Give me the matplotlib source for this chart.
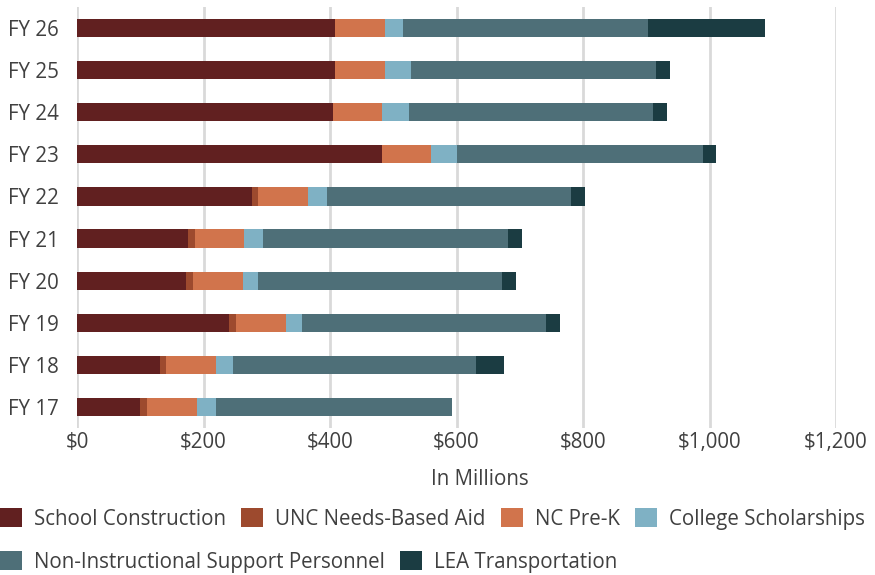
import numpy as np
import matplotlib
matplotlib.use("Agg")
import matplotlib.pyplot as plt
from matplotlib.patches import Patch
from matplotlib.ticker import FuncFormatter

plt.rcParams['font.family'] = ['Open Sans', 'DejaVu Sans']

# fiscal years, bottom to top
years = ['FY 17', 'FY 18', 'FY 19', 'FY 20', 'FY 21',
         'FY 22', 'FY 23', 'FY 24', 'FY 25', 'FY 26']

# spending by program, in millions
school_construction = [99, 131, 240, 173, 175, 276, 482, 404, 408, 408]
unc_needs_aid = [11, 9, 11, 10, 11, 10, 0, 0, 0, 0]
nc_pre_k = [79, 79, 79, 79, 78, 79, 78, 78, 79, 79]
college_scholarships = [31, 27, 25, 24, 30, 30, 41, 43, 41, 28]
support_personnel = [373, 385, 386, 386, 388, 386, 388, 386, 388, 388]
lea_transportation = [0, 44, 22, 22, 22, 22, 22, 22, 22, 184]

series = [
    ('School Construction', school_construction, '#612020'),
    ('UNC Needs-Based Aid', unc_needs_aid, '#9d4a2e'),
    ('NC Pre-K', nc_pre_k, '#d1744c'),
    ('College Scholarships', college_scholarships, '#7fb1c4'),
    ('Non-Instructional Support Personnel', support_personnel, '#4e6f78'),
    ('LEA Transportation', lea_transportation, '#1b3c42'),
]

text_color = '#404040'
fs = 14.8
fig = plt.figure(figsize=(8.75, 5.75), dpi=100)
ax = fig.add_axes([77 / 875, 1 - 428 / 575, (836 - 77) / 875, 421 / 575])

y = np.arange(len(years))
left = np.zeros(len(years))
for name, vals, color in series:
    vals = np.array(vals, dtype=float)
    ax.barh(y, vals, left=left, height=0.43, color=color, label=name, zorder=3)
    left += vals

ax.set_xlim(0, 1200)
ax.set_ylim(-0.5, len(years) - 0.5)
ax.set_xticks(np.arange(0, 1201, 200))
ax.xaxis.set_major_formatter(FuncFormatter(lambda v, p: f'${v:,.0f}'))
ax.set_yticks(y)
ax.set_yticklabels(years)
ax.grid(axis='x', color='#d9d9d9', linewidth=2, zorder=0)
for s in ax.spines.values():
    s.set_visible(False)
ax.tick_params(axis='both', length=0, labelsize=fs, colors=text_color)
ax.tick_params(axis='y', pad=13)
ax.tick_params(axis='x', pad=3)
ax.set_xlabel('In Millions', fontsize=fs, color=text_color, va='center')
ax.xaxis.set_label_coords(0.531, -0.122)

handles = [Patch(facecolor=c, label=n) for n, _, c in series]
common = dict(frameon=False, fontsize=fs, handlelength=1.05, handleheight=1.05,
              handletextpad=0.6, columnspacing=0.75, borderpad=0,
              borderaxespad=0, labelcolor=text_color)
fig.legend(handles=handles[:4], loc='center left', ncol=4,
           bbox_to_anchor=(0, 1 - 519 / 575), **common)
fig.legend(handles=handles[4:], loc='center left', ncol=2,
           bbox_to_anchor=(0, 1 - 562 / 575), **common)

fig.savefig('out.png', dpi=100)
